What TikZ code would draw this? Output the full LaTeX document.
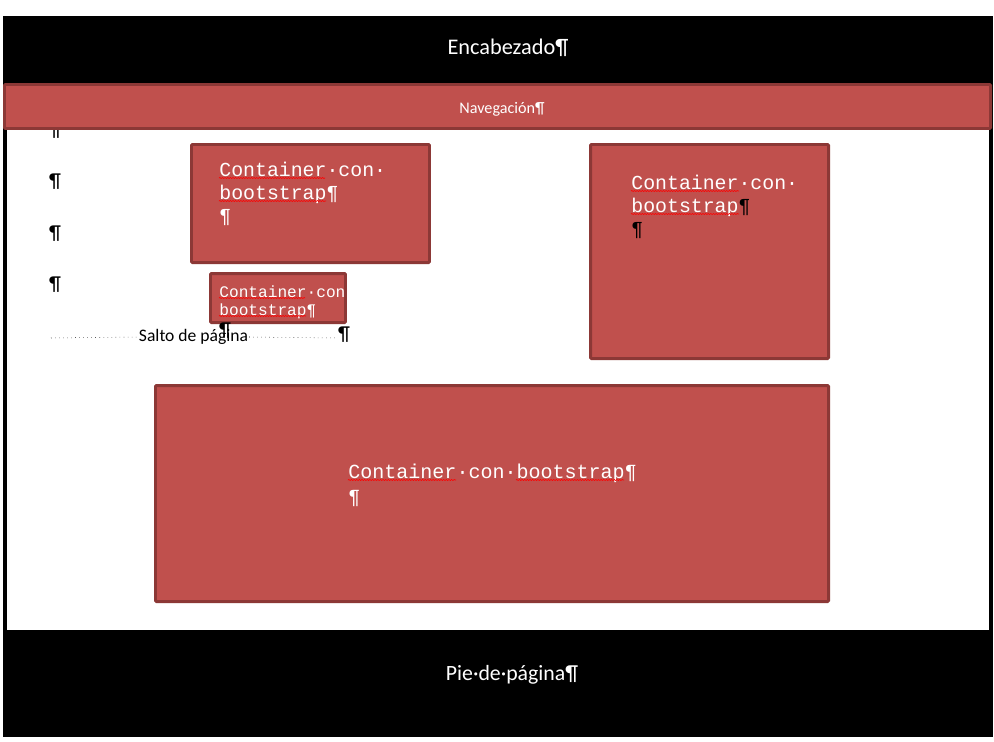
\documentclass[tikz,border=0pt]{standalone}
\usepackage{fontspec}
\setsansfont{Carlito}
\setmonofont{Liberation Mono}
\usetikzlibrary{decorations.pathmorphing}
\definecolor{boxred}{RGB}{192, 80, 77}
\definecolor{boxborder}{RGB}{140, 56, 54}
\tikzset{
  container/.style={draw=boxborder, fill=boxred, line width=1.7pt, rounded corners=0.6pt},
  boxtext/.style={anchor=north west, inner sep=0pt, align=left, text=white},
  spell/.style={draw=red, line width=0.35pt, decorate, decoration={snake, amplitude=0.3pt, segment length=1.5pt}},
  pilcrow/.style={inner sep=0pt, font=\sffamily\fontsize{11.5}{13}\selectfont},
  bandtext/.style={text=white, inner sep=0pt}
}
\begin{document}
\begin{tikzpicture}[x=0.02cm, y=-0.02cm]
  \useasboundingbox (0,0) rectangle (994,741);
  \def\pilx{55}
  \fill[black] (3,16) rectangle (993,737);
  \fill[white] (7,130) rectangle (989,630);
  \node[bandtext, font=\sffamily\fontsize{12.7}{14}\selectfont] (header) at (508,48) {Encabezado¶};
  \node[bandtext, font=\sffamily\fontsize{12.4}{14}\selectfont] (footer) at (512,675) {Pie·de·página¶};
  \foreach \y [count=\i] in {131,182,234,285}
    \node[pilcrow] (par\i) at (\pilx,\y) {¶};
  \draw[container] (4.5,84.5) rectangle (990.5,128.5);
  \node[bandtext, font=\sffamily\fontsize{9.2}{11}\selectfont] (nav) at (502,109) {Navegación¶};
  \draw[container] (191.5,144.5) rectangle (429.5,262.5);
  \node[boxtext, font=\ttfamily\fontsize{11.3}{13}\selectfont] (text1) at (219,162) {Container·con·\\bootstrap¶\\¶};
  \draw[spell] (219,178) -- (325,178);
  \draw[spell] (219,201) -- (326,201);
  \draw[container] (210.5,273.5) rectangle (345.5,322.5);
  \node[boxtext, font=\ttfamily\fontsize{9.2}{10.3}\selectfont] (text2) at (219,285.5) {Container·con\\bootstrap¶};
  \draw[spell] (219,298) -- (305,298);
  \draw[spell] (219,316) -- (306,316);
  \draw[container] (590.5,144.5) rectangle (828.5,358.5);
  \node[boxtext, font=\ttfamily\fontsize{11.3}{13}\selectfont] (text3) at (631,175) {Container·con·\\bootstrap\textcolor{black}{¶}\\\textcolor{black}{¶}};
  \draw[spell] (631,191) -- (739,191);
  \draw[spell] (631,214) -- (739,214);
  \draw[container] (155.5,385.5) rectangle (828.5,601.5);
  \node[boxtext, font=\ttfamily\fontsize{11.4}{14}\selectfont] (text4) at (348,464) {Container·con·bootstrap¶\\¶};
  \draw[spell] (348,480) -- (456,480);
  \draw[spell] (516,480) -- (624,480);
  \node[inner sep=0.5pt, font=\sffamily\fontsize{10}{12}\selectfont] (salto) at (193.5,337) {Salto de página};
  \coordinate (saltoL) at (51,338);
  \coordinate (saltoR) at (338,338);
  \draw[dotted, line width=0.3pt] (saltoL) -- (salto.west);
  \draw[dotted, line width=0.3pt] (salto.east) -- (saltoR);
  \node[pilcrow] (parsalto) at (344,335) {¶};
  \node[pilcrow] (parbox) at (225,331) {¶};
\end{tikzpicture}
\end{document}
